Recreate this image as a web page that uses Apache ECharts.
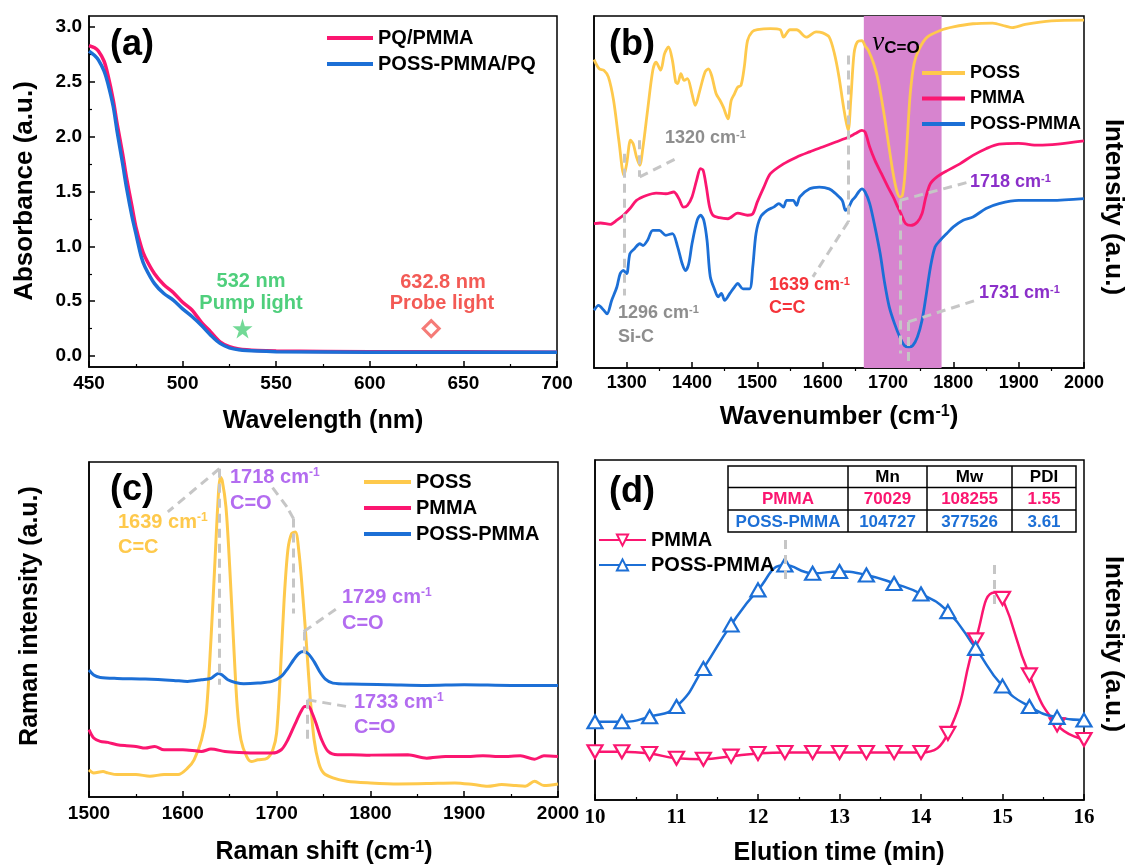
<!DOCTYPE html>
<html>
<head>
<meta charset="utf-8">
<script src="https://cdn.jsdelivr.net/npm/echarts@6/dist/echarts.min.js"></script>
<style>
  html, body { margin: 0; padding: 0; background: #fff; }
  #chart { width: 1127px; height: 866px; }
</style>
</head>
<body>
<div id="chart"></div>
<script>
// ---- (a) absorbance ----
const aWave = [450,453,455,458,460,463,465,468,470,473,475,478,480,485,490,495,500,505,510,515,520,525,530,540,550,600,650,700];
const aPQPMMA = [2.83,2.81,2.78,2.69,2.57,2.33,2.12,1.84,1.63,1.36,1.18,0.99,0.90,0.75,0.65,0.58,0.49,0.42,0.31,0.22,0.13,0.085,0.064,0.05,0.045,0.04,0.038,0.035];
const aPOSSPQ = [2.78,2.74,2.70,2.60,2.49,2.27,2.05,1.75,1.54,1.27,1.12,0.90,0.81,0.66,0.57,0.51,0.43,0.36,0.28,0.19,0.115,0.075,0.058,0.045,0.04,0.035,0.035,0.035];
const aPump = [532, 0.25];
const aProbe = [632.8, 0.25];
const aYTicks = [0, 0.5, 1.0, 1.5, 2.0, 2.5, 3.0];
const aYMinor = [0.25, 0.75, 1.25, 1.75, 2.25, 2.75];

// ---- (b) FTIR, [wavenumber, intensity] ----
const bPOSS = [[1250,87.6],[1258,85],[1265,84.6],[1272,82.7],[1280,76],[1288,64.7],[1296,54.7],[1300,58],[1306,64.7],[1310,63.7],[1315,60],[1320,57.6],[1325,62.8],[1332,73.2],[1340,84.6],[1345,86.9],[1352,84.6],[1358,89.3],[1364,91.2],[1370,87.4],[1375,81.3],[1378,80.8],[1383,83.6],[1388,81.7],[1393,82.2],[1400,77.9],[1405,74.6],[1412,78.9],[1420,84.1],[1425,85],[1430,83.1],[1437,77.9],[1443,76],[1448,74.1],[1455,70.8],[1460,76],[1465,77.9],[1470,79.8],[1475,80.3],[1480,85.5],[1485,93],[1492,95.5],[1500,96.1],[1520,96.4],[1535,96.1],[1540,94],[1550,96.1],[1560,96.1],[1575,94],[1590,95.5],[1600,95.2],[1610,94],[1618,89.3],[1625,82.7],[1632,74.1],[1639,67.5],[1643,76],[1648,89.3],[1653,92.6],[1660,93],[1665,91.5],[1670,90.2],[1678,86.5],[1685,81.7],[1693,73.2],[1700,64.7],[1707,56.2],[1713,50.6],[1718,48.6],[1722,49],[1726,55.2],[1730,66.6],[1734,77.9],[1740,86.5],[1748,90.7],[1760,94],[1780,95.9],[1800,96.9],[1830,97.8],[1860,98],[1880,97.1],[1890,96.7],[1910,97.6],[1950,98.6],[2000,98.8]];
const bPMMA = [[1250,41],[1260,41.2],[1275,40.8],[1285,42],[1295,43.4],[1305,45.3],[1315,47.6],[1330,49],[1345,49.7],[1360,49.5],[1372,50],[1380,48.1],[1387,45.7],[1393,46.2],[1400,48.6],[1407,53.3],[1413,56.6],[1417,56.2],[1422,51.4],[1427,45.7],[1432,43.4],[1442,42.7],[1455,42.4],[1470,44],[1485,43.4],[1493,43.8],[1500,47.2],[1510,51.4],[1520,55.2],[1540,58],[1560,59.9],[1580,61.4],[1600,62.8],[1620,64.2],[1640,65.6],[1650,66.6],[1660,67.5],[1665,67],[1672,62.8],[1680,59],[1690,55.2],[1700,51.4],[1708,48.6],[1715,45.7],[1720,43.8],[1727,41],[1735,40.5],[1745,41.5],[1752,43.8],[1758,48.6],[1765,52.4],[1775,54.3],[1790,56],[1810,58],[1830,60.4],[1850,62.3],[1870,63.6],[1900,63.8],[1930,63.3],[1960,63.6],[2000,64.5]];
const bPOSSPMMA = [[1250,16.4],[1257,17.8],[1265,16.4],[1270,15.4],[1277,19.2],[1285,23],[1290,26.8],[1295,27.7],[1300,26.8],[1305,32.5],[1312,33.9],[1320,35.3],[1325,34.8],[1332,36.3],[1340,39.1],[1350,39.1],[1360,37.7],[1370,38.2],[1378,34.4],[1385,29.6],[1390,27.7],[1395,29.6],[1400,35.3],[1408,42],[1413,43.4],[1418,42],[1423,36.3],[1428,25.9],[1435,22.1],[1440,20.2],[1445,21.2],[1450,19.2],[1458,21.2],[1465,23],[1470,24],[1478,22.5],[1488,22.5],[1493,28.7],[1498,38.2],[1505,42.9],[1515,44.8],[1525,45.7],[1533,46.7],[1540,45.7],[1545,47.6],[1555,47.6],[1560,46.2],[1565,48.6],[1580,50.9],[1595,51.4],[1610,50.9],[1620,49.5],[1630,47.6],[1635,44.8],[1640,45.7],[1645,47.6],[1650,48.6],[1655,50],[1660,50.9],[1665,50],[1672,46.7],[1680,40.1],[1688,32.5],[1695,24],[1702,17.3],[1710,12.6],[1718,8.8],[1725,6.4],[1732,6],[1738,6.4],[1745,8.8],[1752,13.5],[1758,20.2],[1765,28.7],[1772,34.4],[1780,36.3],[1790,38.2],[1800,40.1],[1815,42],[1830,42.9],[1850,45.3],[1870,46.7],[1900,47.6],[1950,47.6],[2000,48.1]];
const bBand = [1663, 1782];
const bTicks = [1300, 1400, 1500, 1600, 1700, 1800, 1900, 2000];
const bMinor = [1350, 1450, 1550, 1650, 1750, 1850, 1950];
const bGuides = [
  [[1296, 60.9], [1296, 20.6]],
  [[1320, 64.7], [1320, 54.3]], [[1320, 54.3], [1380, 59.9]],
  [[1639, 88.8], [1639, 41.5]], [[1639, 41.5], [1585, 25.9]],
  [[1718, 47.6], [1718, 4.1]], [[1718, 47.6], [1823, 52.8]],
  [[1731, 13.1], [1731, 1.2]], [[1731, 13.1], [1834, 19.2]]
];

// ---- (c) Raman, [shift, intensity] ----
const cPOSS = [[1500,8.1],[1505,7.2],[1515,7.6],[1520,7.2],[1530,6.7],[1550,6.7],[1565,6.2],[1580,6.7],[1595,6.7],[1605,8.6],[1612,11.1],[1620,17.1],[1625,25],[1630,46.9],[1634,68.7],[1638,90.6],[1640,95.5],[1642,94.5],[1646,86.6],[1650,68.7],[1654,46.9],[1658,27],[1662,17.1],[1668,12.1],[1673,10.6],[1680,11.1],[1690,11.6],[1696,14.1],[1700,19.1],[1704,36.9],[1708,58.8],[1712,73.7],[1716,78.6],[1720,79.1],[1724,72.6],[1728,59.8],[1732,44.9],[1736,29],[1740,17.1],[1745,10.1],[1750,7.2],[1760,5.7],[1775,4.7],[1800,4.2],[1830,3.9],[1860,4],[1890,4.2],[1910,3.7],[1925,3.2],[1940,3.7],[1955,3.4],[1965,3.2],[1975,4.7],[1985,3.4],[2000,3.9]];
const cPMMA = [[1500,20.1],[1505,17.6],[1512,16.6],[1520,16.3],[1530,15.6],[1540,15.3],[1550,15.1],[1560,14.6],[1570,15.1],[1580,14.1],[1600,14.1],[1620,13.6],[1630,14.3],[1645,13.6],[1660,13.3],[1680,13.1],[1695,13.1],[1705,14.1],[1712,17.1],[1720,22],[1726,25.5],[1730,27],[1734,27],[1738,25],[1742,22],[1748,17.1],[1755,13.6],[1765,12.6],[1780,12.6],[1800,12.5],[1840,12.6],[1860,11.6],[1880,12.1],[1900,12.1],[1920,12.3],[1940,12.1],[1960,12.3],[1975,11.3],[1985,12.3],[2000,12.1]];
const cPOSSPMMA = [[1500,37.9],[1505,36.4],[1512,35.7],[1530,35.4],[1560,35.2],[1590,34.8],[1605,34.5],[1620,35],[1630,35.4],[1638,36.9],[1642,36.4],[1648,35],[1656,34.2],[1665,33.8],[1680,34],[1695,34.5],[1705,36],[1712,38.4],[1718,40.9],[1724,42.9],[1729,43.4],[1734,42.7],[1740,40.4],[1746,37.4],[1752,35.2],[1760,34],[1780,33.7],[1820,33.5],[1860,33.3],[1900,33.5],[1950,33.3],[2000,33.3]];
const cGuides = [
  [[1639, 98], [1639, 33.5]], [[1639, 98], [1584, 85.1]],
  [[1718, 83.1], [1718, 54.8]], [[1718, 83.1], [1711, 86.6]], [[1711, 86.6], [1695, 92.6]],
  [[1729, 49.4], [1729, 42.9]], [[1729, 49.4], [1767, 56.8]],
  [[1733, 29], [1733, 16.6]], [[1733, 29], [1775, 27]]
];

// ---- (d) GPC ----
const dTime = [10, 10.33, 10.67, 11, 11.33, 11.67, 12, 12.33, 12.67, 13, 13.33, 13.67, 14, 14.33, 14.67, 15, 15.33, 15.67, 16];
const dPMMA = [14.2, 14.2, 13.7, 12.3, 12, 12.9, 13.7, 14, 14, 14, 14, 14, 14, 19.6, 47.1, 59.3, 36.8, 22.1, 17.8];
const dPOSSPMMA = [23, 23, 24.5, 27.5, 38.7, 51.5, 61.8, 69.1, 66.7, 67.2, 66.2, 63.7, 60.6, 55.4, 44.6, 33.5, 27.5, 24.3, 23.5];
const dPMMAPeak = [14.9, 61];
const dGuides = [
  [[12.33, 76.5], [12.33, 64.2]],
  [[14.9, 69.1], [14.9, 56.9]]
];
const tableHeader = ['', 'Mn', 'Mw', 'PDI'];
const tableRows = [
  ['PMMA', '70029', '108255', '1.55'],
  ['POSS-PMMA', '104727', '377526', '3.61']
];

const PINK = '#fb1670';
const BLUE = '#1c6fd6';
const YELLOW = '#fec94c';
const GUIDE = '#c6c6c6';
const FONT = 'Liberation Sans';

const zip = (xs, ys) => xs.map((x, i) => [x, ys[i]]);
const plain = v => String(v);

function xAx(grid, min, max, extra) {
  return Object.assign({
    type: 'value', gridIndex: grid, min: min, max: max,
    axisLine: { show: true, onZero: false, lineStyle: { color: '#000', width: 1.5 } },
    axisTick: { show: true, inside: true, length: 6, lineStyle: { color: '#000', width: 1.5 } },
    minorTick: { show: true, splitNumber: 2, length: 3, lineStyle: { color: '#000', width: 1.2 } },
    axisLabel: { color: '#000', fontFamily: FONT, fontWeight: 'bold', fontSize: 19, margin: 7, formatter: plain },
    splitLine: { show: false }
  }, extra || {});
}
function hiddenY(grid) {
  return {
    type: 'value', gridIndex: grid, min: 0, max: 100,
    axisLine: { show: true, onZero: false, lineStyle: { color: '#000', width: 1.5 } },
    axisTick: { show: false }, axisLabel: { show: false }, splitLine: { show: false }
  };
}
function guideLines(pairs) {
  return {
    symbol: ['none', 'none'], silent: true, animation: false,
    label: { show: false },
    lineStyle: { color: GUIDE, width: 3, type: [9, 6] },
    emphasis: { disabled: true },
    data: pairs.map(p => [{ coord: p[0] }, { coord: p[1] }])
  };
}
function curve(name, xi, yi, data, color, width) {
  return {
    name: name, type: 'line', xAxisIndex: xi, yAxisIndex: yi, data: data,
    showSymbol: false, symbol: 'none', smooth: 0.3, z: 3,
    lineStyle: { color: color, width: width }, itemStyle: { color: color },
    emphasis: { disabled: true }
  };
}

const supStyle = size => ({ fontSize: size, fontWeight: 'bold', fontFamily: FONT, verticalAlign: 'top' });
function txt(x, y, text, size, color, opt) {
  opt = opt || {};
  return {
    type: 'text', x: x, y: y, rotation: opt.rot || 0, silent: true, z: 10,
    style: {
      text: text, fill: color, fontFamily: FONT, fontWeight: 'bold', fontSize: size,
      align: opt.align || 'center', verticalAlign: 'middle',
      rich: { sup: Object.assign(supStyle(Math.round(size * 0.62)), { fill: color }) }
    }
  };
}

const graphics = [
  txt(132, 45, '(a)', 36, '#000'),
  txt(632, 45, '(b)', 36, '#000'),
  txt(132, 490, '(c)', 36, '#000'),
  txt(632, 492, '(d)', 36, '#000'),
  txt(323, 421, 'Wavelength (nm)', 25, '#000'),
  txt(25, 191, 'Absorbance (a.u.)', 26, '#000', { rot: Math.PI / 2 }),
  txt(839, 417, 'Wavenumber (cm{sup|-1})', 26, '#000'),
  txt(1113, 207, 'Intensity (a.u.)', 26, '#000', { rot: -Math.PI / 2 }),
  txt(324, 852, 'Raman shift (cm{sup|-1})', 25, '#000'),
  txt(30, 616, 'Raman intensity (a.u.)', 25, '#000', { rot: Math.PI / 2 }),
  txt(839, 853, 'Elution time (min)', 25, '#000'),
  txt(1113, 644, 'Intensity (a.u.)', 26, '#000', { rot: -Math.PI / 2 }),
  // (a) notes
  txt(251, 281, '532 nm', 20, '#4fcf7c'),
  txt(251, 303, 'Pump light', 20, '#4fcf7c'),
  txt(443, 282, '632.8 nm', 20, '#f35a55'),
  txt(442, 303, 'Probe light', 20, '#f35a55'),
  // (b) notes
  txt(665, 138, '1320 cm{sup|-1}', 18, '#8e8e8e', { align: 'left' }),
  txt(618, 313, '1296 cm{sup|-1}', 18, '#8e8e8e', { align: 'left' }),
  txt(618, 337, 'Si-C', 18, '#8e8e8e', { align: 'left' }),
  txt(769, 285, '1639 cm{sup|-1}', 18, '#f5343a', { align: 'left' }),
  txt(769, 308, 'C=C', 18, '#f5343a', { align: 'left' }),
  txt(970, 182, '1718 cm{sup|-1}', 18, '#8b2fc9', { align: 'left' }),
  txt(979, 293, '1731 cm{sup|-1}', 18, '#8b2fc9', { align: 'left' }),
  {
    type: 'text', x: 896, y: 43, silent: true, z: 10,
    style: {
      text: '{nu|ν}{sub|C=O}', align: 'center', verticalAlign: 'middle', fill: '#000',
      rich: {
        nu: { fontFamily: 'Liberation Serif', fontStyle: 'italic', fontSize: 27, fill: '#000' },
        sub: { fontFamily: FONT, fontWeight: 'bold', fontSize: 17, fill: '#000', verticalAlign: 'bottom' }
      }
    }
  },
  // (c) notes
  txt(118, 522, '1639 cm{sup|-1}', 20, '#fec94c', { align: 'left' }),
  txt(118, 547, 'C=C', 20, '#fec94c', { align: 'left' }),
  txt(230, 477, '1718 cm{sup|-1}', 20, '#b36cf0', { align: 'left' }),
  txt(230, 503, 'C=O', 20, '#b36cf0', { align: 'left' }),
  txt(342, 597, '1729 cm{sup|-1}', 20, '#b36cf0', { align: 'left' }),
  txt(342, 623, 'C=O', 20, '#b36cf0', { align: 'left' }),
  txt(354, 702, '1733 cm{sup|-1}', 20, '#b36cf0', { align: 'left' }),
  txt(354, 727, 'C=O', 20, '#b36cf0', { align: 'left' })
];

// (d) table
const tCols = [728, 848, 927, 1012, 1076];
const tRows = [466, 487.5, 510, 532];
const tLine = { stroke: '#000', lineWidth: 1.5 };
graphics.push({ type: 'rect', silent: true, z: 10, shape: { x: tCols[0], y: tRows[0], width: tCols[4] - tCols[0], height: tRows[3] - tRows[0] }, style: { fill: '#fff', stroke: '#000', lineWidth: 1.5 } });
tCols.slice(1, 4).forEach(c => graphics.push({ type: 'line', silent: true, z: 11, shape: { x1: c, y1: tRows[0], x2: c, y2: tRows[3] }, style: tLine }));
tRows.slice(1, 3).forEach(r => graphics.push({ type: 'line', silent: true, z: 11, shape: { x1: tCols[0], y1: r, x2: tCols[4], y2: r }, style: tLine }));
[tableHeader].concat(tableRows).forEach((row, ri) => {
  const color = ri === 0 ? '#000' : (ri === 1 ? PINK : BLUE);
  row.forEach((cell, ci) => {
    if (!cell) return;
    graphics.push(txt((tCols[ci] + tCols[ci + 1]) / 2, (tRows[ri] + tRows[ri + 1]) / 2 + 1, cell, 17, color));
  });
});

const star = 'path://M50,0 L61,35 L98,35 L68,57 L79,91 L50,70 L21,91 L32,57 L2,35 L39,35 Z';

const dPMMAData = dTime.map((t, i) => [t, dPMMA[i]]);
dPMMAData.splice(15, 0, { value: dPMMAPeak, symbol: 'none' });

const option = {
  animation: false,
  backgroundColor: '#fff',
  grid: [
    { left: 89, top: 16, width: 468, height: 351 },
    { left: 594, top: 16, width: 490, height: 352 },
    { left: 89, top: 462, width: 469, height: 335 },
    { left: 595, top: 460, width: 489, height: 340 }
  ].map(g => Object.assign(g, { show: true, borderColor: '#000', borderWidth: 1.5, containLabel: false, outerBoundsMode: 'none' })),
  xAxis: [
    xAx(0, 450, 700, { interval: 50 }),
    xAx(1, 1250, 2000, {
      minorTick: { show: false },
      axisTick: { show: true, inside: true, length: 6, customValues: bTicks, lineStyle: { color: '#000', width: 1.5 } },
      axisLabel: { color: '#000', fontFamily: FONT, fontWeight: 'bold', fontSize: 18, margin: 6, customValues: bTicks, formatter: plain }
    }),
    xAx(1, 1250, 2000, {
      minorTick: { show: false }, axisLine: { show: false }, axisLabel: { show: false },
      axisTick: { show: true, inside: true, length: 3, customValues: bMinor, lineStyle: { color: '#000', width: 1.2 } }
    }),
    xAx(2, 1500, 2000, { interval: 100 }),
    xAx(3, 10, 16, {
      interval: 1,
      axisLabel: { color: '#000', fontFamily: 'Liberation Serif', fontWeight: 'bold', fontSize: 21, margin: 7, formatter: plain }
    })
  ],
  yAxis: [
    {
      type: 'value', gridIndex: 0, min: -0.1, max: 3.1, position: 'left',
      axisLine: { show: true, onZero: false, lineStyle: { color: '#000', width: 1.5 } },
      axisTick: { show: true, inside: true, length: 6, customValues: aYTicks, lineStyle: { color: '#000', width: 1.5 } },
      axisLabel: { color: '#000', fontFamily: FONT, fontWeight: 'bold', fontSize: 19, margin: 7, customValues: aYTicks, formatter: v => v.toFixed(1) },
      splitLine: { show: false }
    },
    {
      type: 'value', gridIndex: 0, min: -0.1, max: 3.1, position: 'left', offset: 0,
      axisLine: { show: false },
      axisTick: { show: true, inside: true, length: 3, customValues: aYMinor, lineStyle: { color: '#000', width: 1.2 } },
      axisLabel: { show: false }, splitLine: { show: false }
    },
    hiddenY(1), hiddenY(2), hiddenY(3)
  ],
  legend: [
    { left: 327, top: 28, orient: 'vertical', padding: 0, itemGap: 6, icon: 'rect', itemWidth: 46, itemHeight: 4,
      data: ['a:PQ/PMMA', 'a:POSS-PMMA/PQ'] },
    { left: 922, top: 63, orient: 'vertical', padding: 0, itemGap: 5.5, icon: 'rect', itemWidth: 43, itemHeight: 4,
      data: ['b:POSS', 'b:PMMA', 'b:POSS-PMMA'], textStyle: { fontSize: 18 } },
    { left: 364, top: 472, orient: 'vertical', padding: 0, itemGap: 6, icon: 'rect', itemWidth: 47, itemHeight: 4,
      data: ['c:POSS', 'c:PMMA', 'c:POSS-PMMA'] },
    { left: 598, top: 530, orient: 'vertical', padding: 0, itemGap: 5, itemWidth: 47, itemHeight: 14,
      data: ['d:PMMA', 'd:POSS-PMMA'] }
  ].map(l => Object.assign({
    selectedMode: false,
    formatter: n => n.split(':')[1]
  }, l, {
    textStyle: Object.assign({ color: '#000', fontFamily: FONT, fontWeight: 'bold', fontSize: 20, lineHeight: 20, padding: 0 }, l.textStyle || {})
  })),
  series: [
    // (a)
    curve('a:PQ/PMMA', 0, 0, zip(aWave, aPQPMMA), PINK, 3.5),
    curve('a:POSS-PMMA/PQ', 0, 0, zip(aWave, aPOSSPQ), BLUE, 3.5),
    { type: 'scatter', xAxisIndex: 0, yAxisIndex: 0, data: [aPump], symbol: star, symbolSize: 20,
      itemStyle: { color: '#4fcf7c' }, z: 5, silent: true },
    { type: 'scatter', xAxisIndex: 0, yAxisIndex: 0, data: [aProbe], symbol: 'diamond', symbolSize: 16,
      itemStyle: { color: '#fff', borderColor: '#f35a55', borderWidth: 3 }, z: 5, silent: true },
    // (b)
    { type: 'line', xAxisIndex: 1, yAxisIndex: 2, data: [], z: 1, silent: true,
      markArea: { silent: true, itemStyle: { color: '#d784cf' }, data: [[{ xAxis: bBand[0] }, { xAxis: bBand[1] }]] } },
    curve('b:POSS', 1, 2, bPOSS, YELLOW, 2.8),
    curve('b:PMMA', 1, 2, bPMMA, PINK, 2.8),
    curve('b:POSS-PMMA', 1, 2, bPOSSPMMA, BLUE, 2.8),
    { type: 'line', xAxisIndex: 1, yAxisIndex: 2, data: [], z: 4, silent: true, markLine: guideLines(bGuides) },
    // (c)
    curve('c:POSS', 3, 3, cPOSS, YELLOW, 3),
    curve('c:PMMA', 3, 3, cPMMA, PINK, 3),
    curve('c:POSS-PMMA', 3, 3, cPOSSPMMA, BLUE, 3),
    { type: 'line', xAxisIndex: 3, yAxisIndex: 3, data: [], z: 4, silent: true, markLine: guideLines(cGuides) },
    // (d)
    { type: 'line', xAxisIndex: 4, yAxisIndex: 4, data: [], z: 2, silent: true, markLine: guideLines(dGuides) },
    { name: 'd:PMMA', type: 'line', xAxisIndex: 4, yAxisIndex: 4, data: dPMMAData, smooth: 0.5, z: 3,
      symbol: 'triangle', symbolRotate: 180, symbolSize: [15, 13], showSymbol: true,
      lineStyle: { color: PINK, width: 2.5 }, itemStyle: { color: '#fff', borderColor: PINK, borderWidth: 2.2 },
      emphasis: { disabled: true } },
    { name: 'd:POSS-PMMA', type: 'line', xAxisIndex: 4, yAxisIndex: 4, data: zip(dTime, dPOSSPMMA), smooth: 0.5, z: 3,
      symbol: 'triangle', symbolSize: [15, 13], showSymbol: true,
      lineStyle: { color: BLUE, width: 2.5 }, itemStyle: { color: '#fff', borderColor: BLUE, borderWidth: 2.2 },
      emphasis: { disabled: true } }
  ],
  graphic: graphics
};

const chart = echarts.init(document.getElementById('chart'));
chart.setOption(option);
</script>
</body>
</html>
